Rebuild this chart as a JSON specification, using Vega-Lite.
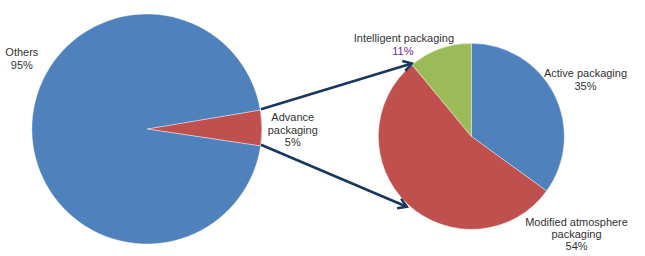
{
  "$schema": "https://vega.github.io/schema/vega-lite/v6.json",
  "width": 645,
  "height": 256,
  "autosize": {"type": "fit", "contains": "padding"},
  "padding": 0,
  "background": "#ffffff",
  "config": {"view": {"stroke": null}},
  "datasets": {
    "left": [
      {"category": "Advance packaging", "share": 5, "ord": 1, "cx": 148, "cy": 131},
      {"category": "Others", "share": 95, "ord": 2, "cx": 148, "cy": 131}
    ],
    "right": [
      {"category": "Active packaging", "share": 35, "ord": 1, "cx": 475, "cy": 138.5},
      {"category": "Modified atmosphere packaging", "share": 54, "ord": 2, "cx": 475, "cy": 138.5},
      {"category": "Intelligent packaging", "share": 11, "ord": 3, "cx": 475, "cy": 138.5}
    ],
    "arrows": [
      {"id": "up", "x1": 263, "y1": 111, "x2": 415, "y2": 64.5},
      {"id": "down", "x1": 263, "y1": 147, "x2": 410, "y2": 210}
    ],
    "labels": [
      {"line": "Others", "x": 22, "y": 57},
      {"line": "95%", "x": 22, "y": 70},
      {"line": "Advance", "x": 295, "y": 123},
      {"line": "packaging", "x": 295, "y": 136},
      {"line": "5%", "x": 295, "y": 148},
      {"line": "Intelligent packaging", "x": 407, "y": 43},
      {"line": "11%", "x": 406, "y": 56},
      {"line": "Active packaging", "x": 590, "y": 78},
      {"line": "35%", "x": 590, "y": 91},
      {"line": "Modified atmosphere", "x": 581, "y": 230},
      {"line": "packaging", "x": 581, "y": 242},
      {"line": "54%", "x": 581, "y": 254}
    ]
  },
  "encoding": {},
  "resolve": {"scale": {"theta": "independent"}},
  "layer": [
    {
      "data": {"name": "left"},
      "mark": {"type": "arc", "outerRadius": 115, "stroke": "#ffffff", "strokeWidth": 0.4},
      "encoding": {
        "x": {"field": "cx", "type": "quantitative", "scale": {"domain": [0, 645]}, "axis": null},
        "y": {"field": "cy", "type": "quantitative", "scale": {"domain": [0, 256], "reverse": true}, "axis": null},
        "theta": {"field": "share", "type": "quantitative", "stack": true, "scale": {"range": [1.405, 7.688]}},
        "order": {"field": "ord"},
        "color": {
          "field": "category", "type": "nominal", "legend": null,
          "scale": {
            "domain": ["Others", "Advance packaging", "Active packaging", "Modified atmosphere packaging", "Intelligent packaging"],
            "range": ["#4F81BD", "#C0504D", "#4F81BD", "#C0504D", "#9BBB59"]
          }
        }
      }
    },
    {
      "data": {"name": "right"},
      "mark": {"type": "arc", "outerRadius": 93, "stroke": "#ffffff", "strokeWidth": 0.4},
      "encoding": {
        "x": {"field": "cx", "type": "quantitative", "axis": null},
        "y": {"field": "cy", "type": "quantitative", "axis": null},
        "theta": {"field": "share", "type": "quantitative", "stack": true, "scale": {"range": [0, 6.2832]}},
        "order": {"field": "ord"},
        "color": {"field": "category", "type": "nominal", "legend": null}
      }
    },
    {
      "data": {"name": "arrows"},
      "mark": {"type": "rule", "stroke": "#17375E", "strokeWidth": 2.5},
      "encoding": {
        "x": {"field": "x1", "type": "quantitative", "axis": null},
        "y": {"field": "y1", "type": "quantitative", "axis": null},
        "x2": {"field": "x2"},
        "y2": {"field": "y2"}
      }
    },
    {
      "data": {"name": "arrows"},
      "transform": [{"filter": "datum.id === 'up'"}],
      "mark": {"type": "point", "shape": "M-0.55,0.9L0,0L0.55,0.9", "filled": false, "stroke": "#17375E", "strokeWidth": 2.5, "size": 350, "angle": 72.8, "opacity": 1},
      "encoding": {
        "x": {"field": "x2", "type": "quantitative", "axis": null},
        "y": {"field": "y2", "type": "quantitative", "axis": null}
      }
    },
    {
      "data": {"name": "arrows"},
      "transform": [{"filter": "datum.id === 'down'"}],
      "mark": {"type": "point", "shape": "M-0.55,0.9L0,0L0.55,0.9", "filled": false, "stroke": "#17375E", "strokeWidth": 2.5, "size": 350, "angle": 113.2, "opacity": 1},
      "encoding": {
        "x": {"field": "x2", "type": "quantitative", "axis": null},
        "y": {"field": "y2", "type": "quantitative", "axis": null}
      }
    },
    {
      "data": {"name": "labels"},
      "mark": {"type": "text", "font": "Liberation Sans", "fontSize": 11, "align": "center", "baseline": "alphabetic"},
      "encoding": {
        "x": {"field": "x", "type": "quantitative", "axis": null},
        "y": {"field": "y", "type": "quantitative", "axis": null},
        "text": {"field": "line"},
        "color": {"condition": {"test": "datum.line === '11%'", "value": "#6F2C91"}, "value": "#333333"}
      }
    }
  ]
}
